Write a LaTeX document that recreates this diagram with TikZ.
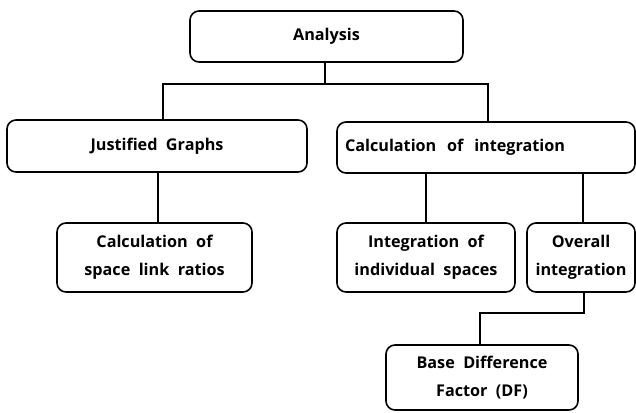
\documentclass[tikz,border=0pt]{standalone}
\usepackage{fontspec}
\setmainfont{Open Sans}[BoldFont={Open Sans Bold}]
\begin{document}
\begin{tikzpicture}[x=1pt,y=-1pt,
  box/.style={draw=black,line width=1.6pt,rounded corners=9pt,inner sep=0pt,
    font=\bfseries\fontsize{16.2}{28}\selectfont,align=center},
  conn/.style={line width=2.6pt}]
\useasboundingbox[fill=white] (0,0) rectangle (636,412);
\node[box,minimum width=273pt,minimum height=51pt] (A) at (326.5,36.5) {Analysis};
\node[box,minimum width=300pt,minimum height=52pt] (JG) at (157,146) {Justified\ \ Graphs};
\node[box,minimum width=298pt,minimum height=51pt,text width=282pt,align=left] (CI) at (486,147.5) {Calculation\ \ of\ \ integration};
\node[box,minimum width=195pt,minimum height=69pt] (CS) at (154.5,257.5) {Calculation\ \ of\\space\ \ link\ \ ratios};
\node[box,minimum width=178pt,minimum height=69pt] (IS) at (426,257.5) {Integration\ \ of\\individual\ \ spaces};
\node[box,minimum width=108pt,minimum height=69pt] (OI) at (581,257.5) {Overall\\integration};
\node[box,minimum width=192pt,minimum height=65pt] (DF) at (482,377.5) {Base\ \ Difference\\Factor\ \ (DF)};
\coordinate (hl) at (163,84);
\coordinate (hr) at (488,84);
\coordinate (bl) at (480,313);
\coordinate (br) at (584,313);
\draw[conn] (325,0 |- A.south) -- (325,0 |- hl);
\draw[conn] (hl |- JG.north) -- (hl) -- (hr) -- (hr |- CI.north);
\draw[conn] (158,0 |- JG.south) -- (158,0 |- CS.north);
\draw[conn] (426,0 |- CI.south) -- (426,0 |- IS.north);
\draw[conn] (583,0 |- CI.south) -- (583,0 |- OI.north);
\draw[conn] (br |- OI.south) -- (br) -- (bl) -- (bl |- DF.north);
\end{tikzpicture}
\end{document}
